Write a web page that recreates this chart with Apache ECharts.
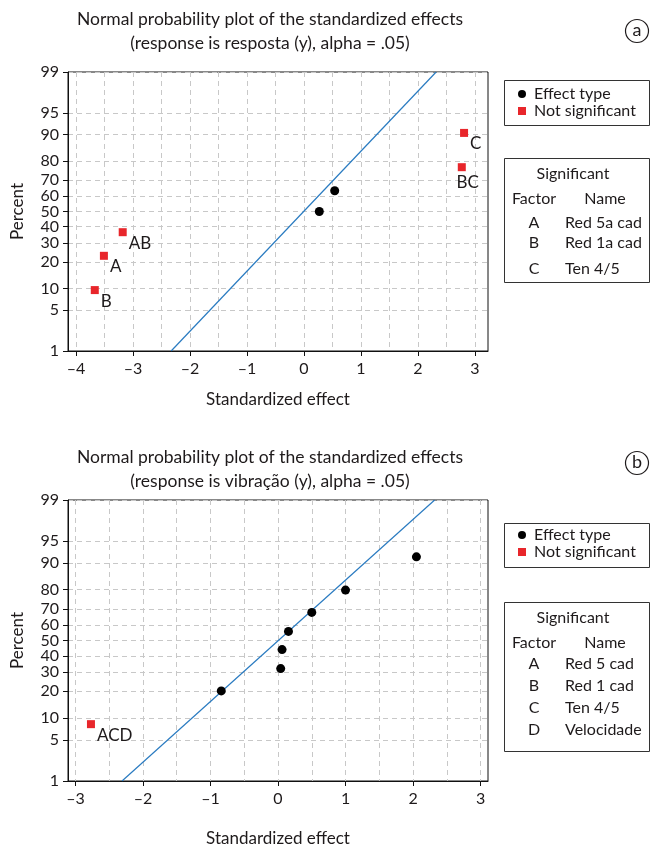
<!DOCTYPE html>
<html>
<head>
<meta charset="utf-8">
<script src="https://cdn.jsdelivr.net/npm/echarts@6/dist/echarts.min.js"></script>
<style>
  html, body { margin: 0; padding: 0; background: #fff; }
  #chart { width: 650px; height: 848px; }
</style>
</head>
<body>
<div id="chart"></div>
<script>
// Normal probability scale: tick percents on the y axis
const pctTicks = [1, 5, 10, 20, 30, 40, 50, 60, 70, 80, 90, 95, 99];

// Panel (a): response "resposta"
const xTicksA = [-4, -3, -2, -1, 0, 1, 2, 3];
const xGridA = [-4, -3.5, -3, -2.5, -2, -1.5, -1, -0.5, 0, 0.5, 1, 1.5, 2, 2.5, 3];
const effectA = [-3.67, -3.51, -3.18, 0.27, 0.54, 2.77, 2.81];
const pctA = [9.5, 23.0, 36.5, 50.0, 63.5, 77.0, 90.5];
const termA = ['B', 'A', 'AB', '', '', 'BC', 'C'];
const notSigA = [true, true, true, false, false, true, true];
const refLineA = { effect: [-2.33, 2.32], pct: [1, 99] };
const factorsA = [['A', 'Red 5a cad'], ['B', 'Red 1a cad'], ['C', 'Ten 4/5']];

// Panel (b): response "vibração"
const xTicksB = [-3, -2, -1, 0, 1, 2, 3];
const xGridB = [-3, -2.5, -2, -1.5, -1, -0.5, 0, 0.5, 1, 1.5, 2, 2.5, 3];
const effectB = [-2.77, -0.84, 0.04, 0.06, 0.155, 0.50, 1.00, 2.05];
const pctB = [8.3, 20.2, 32.1, 44.0, 56.0, 67.9, 79.8, 91.7];
const termB = ['ACD', '', '', '', '', '', '', ''];
const notSigB = [true, false, false, false, false, false, false, false];
const refLineB = { effect: [-2.31, 2.32], pct: [1, 99] };
const factorsB = [['A', 'Red 5 cad'], ['B', 'Red 1 cad'], ['C', 'Ten 4/5'], ['D', 'Velocidade']];

// Inverse standard normal CDF (Acklam's rational approximation)
function probit(p) {
  const a = [-3.969683028665376e+01, 2.209460984245205e+02, -2.759285104469687e+02,
             1.383577518672690e+02, -3.066479806614716e+01, 2.506628277459239e+00];
  const b = [-5.447609879822406e+01, 1.615858368580409e+02, -1.556989798598866e+02,
             6.680131188771972e+01, -1.328068155288572e+01];
  const c = [-7.784894002430293e-03, -3.223964580411365e-01, -2.400758277161838e+00,
             -2.549732539343734e+00, 4.374664141464968e+00, 2.938163982698783e+00];
  const d = [7.784695709041462e-03, 3.224671290700398e-01, 2.445134137142996e+00,
             3.754408661907416e+00];
  const plow = 0.02425, phigh = 1 - plow;
  let q, r;
  if (p < plow) {
    q = Math.sqrt(-2 * Math.log(p));
    return (((((c[0]*q+c[1])*q+c[2])*q+c[3])*q+c[4])*q+c[5]) / ((((d[0]*q+d[1])*q+d[2])*q+d[3])*q+1);
  }
  if (p > phigh) {
    q = Math.sqrt(-2 * Math.log(1 - p));
    return -(((((c[0]*q+c[1])*q+c[2])*q+c[3])*q+c[4])*q+c[5]) / ((((d[0]*q+d[1])*q+d[2])*q+d[3])*q+1);
  }
  q = p - 0.5; r = q * q;
  return (((((a[0]*r+a[1])*r+a[2])*r+a[3])*r+a[4])*r+a[5])*q / (((((b[0]*r+b[1])*r+b[2])*r+b[3])*r+b[4])*r+1);
}
const zOf = pct => probit(pct / 100);
const zTicks = pctTicks.map(zOf);
const zMin = zOf(1), zMax = zOf(99);

const FONT = 'Lato, "Open Sans", sans-serif';
const INK = '#1e1a1b';
const RED = '#e8262b';
const BLUE = '#2a7bc1';
const GRID = '#c8c8c8';

function pctLabel(v) {
  for (let i = 0; i < zTicks.length; i++) {
    if (Math.abs(zTicks[i] - v) < 1e-6) return String(pctTicks[i]);
  }
  return '';
}

// Label placement for effect terms; BC sits under its marker
function termLabel(term) {
  if (term === 'BC') {
    return { show: true, position: 'bottom', distance: 3, offset: [6, 0] };
  }
  return { show: true, position: 'right', distance: 2, offset: [0, 11] };
}

function pointSeries(effect, pct, term, notSig, wantNotSig, gi) {
  const data = [];
  for (let i = 0; i < effect.length; i++) {
    if (notSig[i] !== wantNotSig) continue;
    const item = { name: term[i], value: [effect[i], zOf(pct[i])] };
    if (term[i]) item.label = termLabel(term[i]);
    data.push(item);
  }
  return {
    type: 'scatter',
    name: wantNotSig ? 'Not significant' : 'Effect type',
    xAxisIndex: gi * 2, yAxisIndex: gi,
    symbol: wantNotSig ? 'rect' : 'circle',
    symbolSize: wantNotSig ? 8 : 9,
    itemStyle: { color: wantNotSig ? RED : '#000', opacity: 1 },
    label: { show: false, formatter: '{b}', color: INK, fontFamily: FONT, fontSize: 17 },
    emphasis: { disabled: true },
    data: data,
    z: 5
  };
}

function refSeries(ref, gi) {
  return {
    type: 'line',
    xAxisIndex: gi * 2, yAxisIndex: gi,
    symbol: 'none', silent: true,
    lineStyle: { color: BLUE, width: 1.2 },
    data: ref.effect.map((x, i) => [x, zOf(ref.pct[i])]),
    z: 3
  };
}

function xAxes(gi, min, max, ticks, gridVals, nameGap) {
  return [
    {
      type: 'value', gridIndex: gi, min: min, max: max, position: 'bottom',
      name: 'Standardized effect', nameLocation: 'middle', nameGap: nameGap,
      nameTextStyle: { fontFamily: FONT, fontSize: 17, color: INK },
      axisLine: { show: true, onZero: false, lineStyle: { color: '#111', width: 1 } },
      axisTick: { show: true, length: 5, customValues: ticks, lineStyle: { color: '#111' } },
      axisLabel: { customValues: ticks, margin: 10, fontFamily: FONT, fontSize: 16, color: INK,
                   formatter: v => (v < 0 ? '\u2013' + Math.abs(v) : String(v)) },
      splitLine: { show: false }
    },
    {
      type: 'value', gridIndex: gi, min: min, max: max, position: 'bottom',
      axisLine: { show: false }, axisLabel: { show: false },
      axisTick: { show: false, customValues: gridVals },
      splitLine: { show: true, lineStyle: { color: GRID, type: [5, 4], width: 1 } }
    }
  ];
}

function yAxis(gi, nameGap) {
  return {
    type: 'value', gridIndex: gi, min: zMin, max: zMax,
    name: 'Percent', nameLocation: 'middle', nameGap: nameGap,
    nameTextStyle: { fontFamily: FONT, fontSize: 17, color: INK },
    axisLine: { show: true, onZero: false, lineStyle: { color: '#111', width: 1 } },
    axisTick: { show: true, length: 5, customValues: zTicks, lineStyle: { color: '#111' } },
    axisLabel: { customValues: zTicks, margin: 9, fontFamily: FONT, fontSize: 16, color: INK,
                 formatter: pctLabel },
    splitLine: { show: true, lineStyle: { color: GRID, type: [5, 4], width: 1 } }
  };
}

function legendBox(top) {
  return {
    orient: 'vertical', left: 518, top: top, padding: 0,
    itemWidth: 8, itemHeight: 8, itemGap: 1,
    textStyle: { fontFamily: FONT, fontSize: 16, color: INK, lineHeight: 16, padding: [0, 0, 0, 3] },
    selectedMode: false,
    data: [
      { name: 'Effect type', icon: 'circle', itemStyle: { opacity: 1 } },
      { name: 'Not significant', icon: 'rect', itemStyle: { opacity: 1 } }
    ]
  };
}

// Factor key box drawn with graphic elements
function factorBox(top, height, rows, rowYs) {
  const els = [];
  els.push({ type: 'rect', shape: { x: 504.5, y: top + 0.5, width: 145, height: height },
             style: { fill: '#fff', stroke: '#333', lineWidth: 1 } });
  const txt = (x, y, s, align) => ({
    type: 'text', x: x, y: y,
    style: { text: s, fontFamily: FONT, fontSize: 16, fill: INK, align: align, verticalAlign: 'middle' }
  });
  els.push(txt(573, top + 16, 'Significant', 'center'));
  els.push(txt(534, top + 41, 'Factor', 'center'));
  els.push(txt(605, top + 41, 'Name', 'center'));
  rows.forEach((r, i) => {
    els.push(txt(534, top + rowYs[i], r[0], 'center'));
    els.push(txt(565, top + rowYs[i], r[1], 'left'));
  });
  return els;
}

function outlineBox(top, height) {
  return { type: 'rect', shape: { x: 504.5, y: top + 0.5, width: 145, height: height },
           style: { fill: 'none', stroke: '#333', lineWidth: 1 }, z: -1 };
}

function panelTag(cy, letter) {
  return [
    { type: 'circle', shape: { cx: 637, cy: cy, r: 11.5 },
      style: { fill: '#fff', stroke: INK, lineWidth: 1.2 } },
    { type: 'text', x: 637, y: cy - 1,
      style: { text: letter, fontFamily: FONT, fontSize: 18, fill: INK, align: 'center', verticalAlign: 'middle' } }
  ];
}

const chart = echarts.init(document.getElementById('chart'), null, { renderer: 'canvas' });

const titleStyle = { fontFamily: FONT, fontSize: 17.5, fontWeight: 'normal', color: INK, lineHeight: 24 };

chart.setOption({
  animation: false,
  backgroundColor: '#fff',
  title: [
    { text: 'Normal probability plot of the standardized effects\n(response is resposta (y), alpha = .05)',
      left: 270, top: 7, textAlign: 'center', textStyle: titleStyle, padding: 0 },
    { text: 'Normal probability plot of the standardized effects\n(response is vibração (y), alpha = .05)',
      left: 270, top: 445, textAlign: 'center', textStyle: titleStyle, padding: 0 }
  ],
  grid: [
    { left: 68, top: 72, width: 420, height: 279, show: true, borderColor: '#111', borderWidth: 1, containLabel: false },
    { left: 68, top: 500, width: 420, height: 281, show: true, borderColor: '#111', borderWidth: 1, containLabel: false }
  ],
  xAxis: [].concat(
    xAxes(0, -4.14, 3.23, xTicksA, xGridA, 40),
    xAxes(1, -3.11, 3.11, xTicksB, xGridB, 49)
  ),
  yAxis: [yAxis(0, 42), yAxis(1, 42)],
  legend: [legendBox(86), legendBox(527)],
  series: [
    refSeries(refLineA, 0),
    pointSeries(effectA, pctA, termA, notSigA, false, 0),
    pointSeries(effectA, pctA, termA, notSigA, true, 0),
    refSeries(refLineB, 1),
    pointSeries(effectB, pctB, termB, notSigB, false, 1),
    pointSeries(effectB, pctB, termB, notSigB, true, 1)
  ],
  graphic: [].concat(
    [outlineBox(80, 45), outlineBox(523, 44)],
    factorBox(158, 124, factorsA, [65, 85, 111]),
    factorBox(602, 149, factorsB, [62, 84, 106, 128]),
    panelTag(31, 'a'),
    panelTag(463, 'b')
  )
});
</script>
</body>
</html>
